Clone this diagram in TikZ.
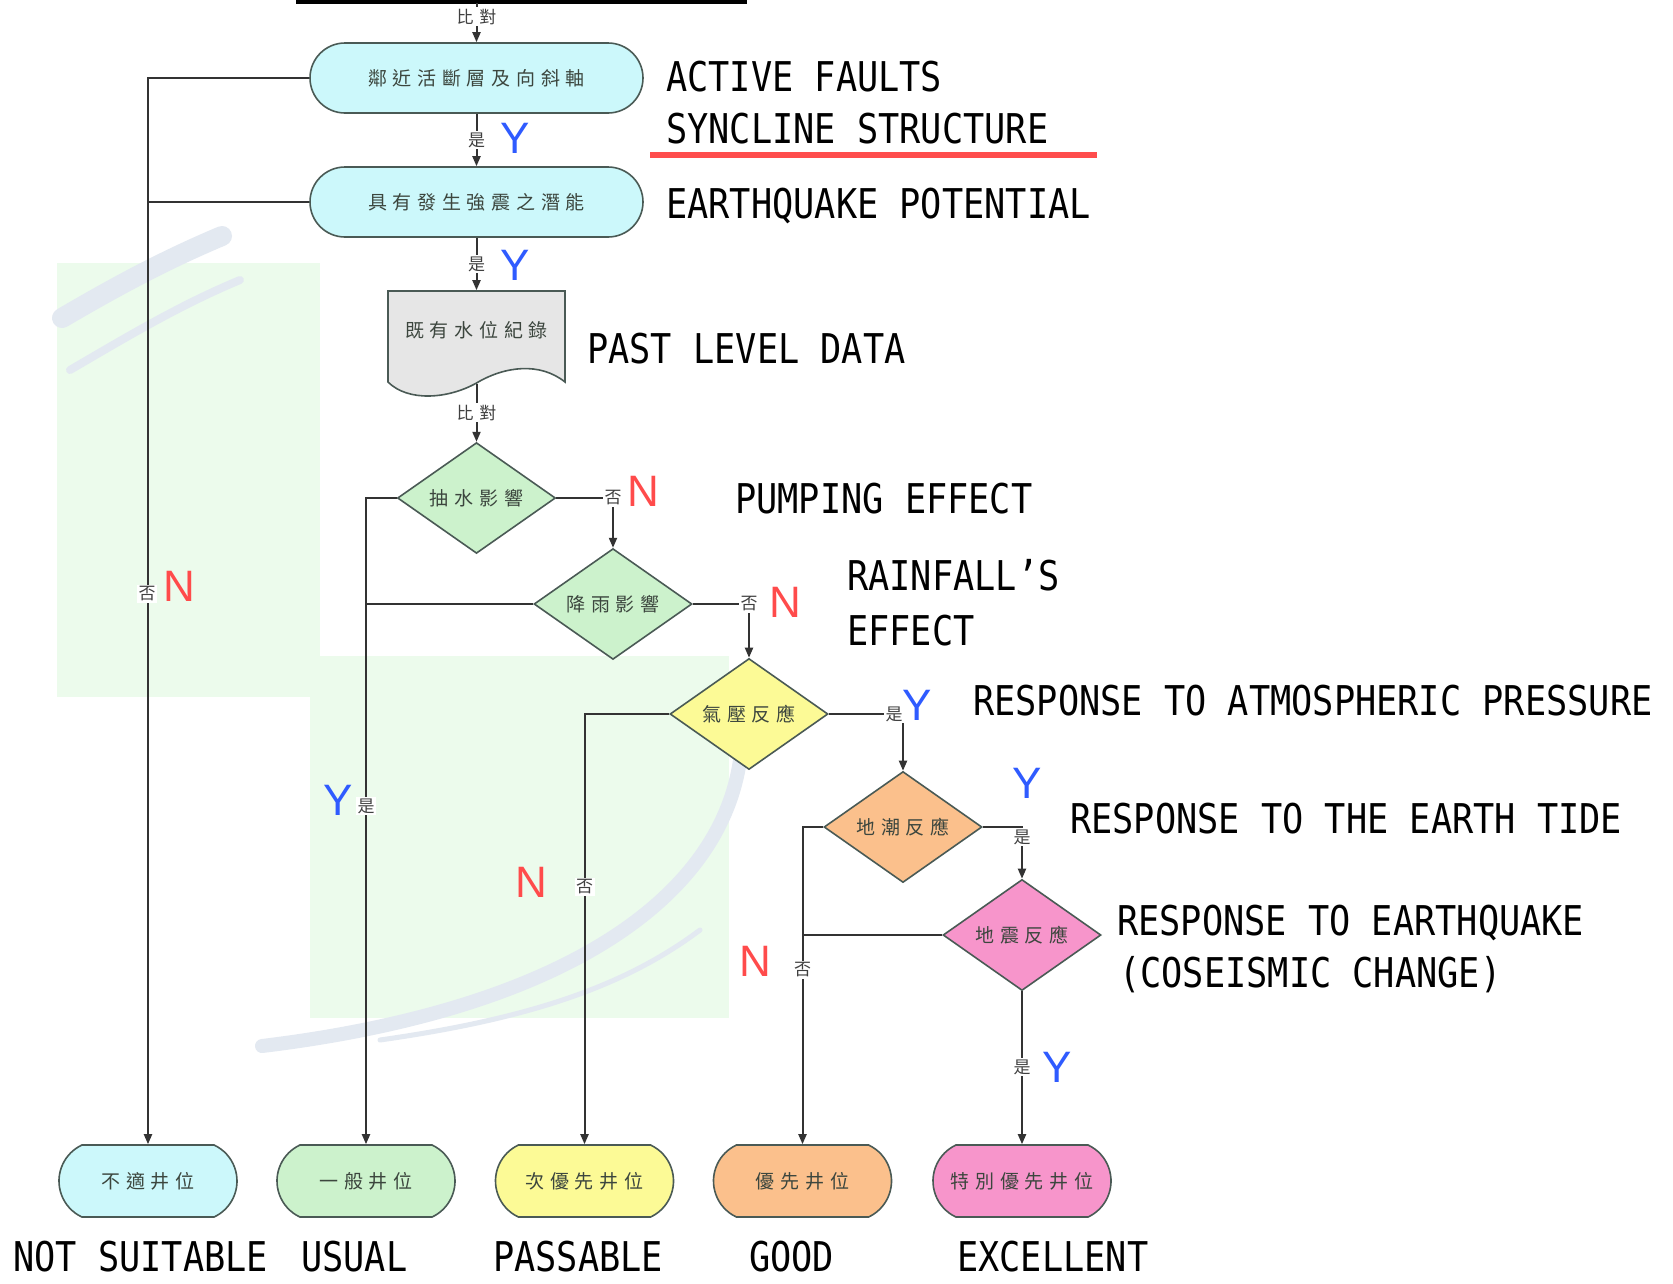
\documentclass[tikz,border=0pt]{standalone}
\usepackage{fontspec}
\usetikzlibrary{shapes.geometric,shapes.misc,arrows.meta,calc}
\newfontfamily\cjkfont[LetterSpace=30]{Noto Sans CJK TC}
\newfontfamily\cjklab[LetterSpace=35]{Noto Sans CJK TC}
\newfontfamily\engfont[FakeStretch=0.86]{DejaVu Sans Mono}
\newfontfamily\ynfont{Liberation Sans}
\definecolor{linec}{HTML}{333333}
\definecolor{borderc}{HTML}{4A5A55}
\definecolor{txtc}{HTML}{3C463E}
\definecolor{labc}{HTML}{404040}
\definecolor{cyanf}{HTML}{CCF8FB}
\definecolor{grayf}{HTML}{E6E6E6}
\definecolor{greenf}{HTML}{CCF2CC}
\definecolor{yellowf}{HTML}{FCFA96}
\definecolor{orangef}{HTML}{FBC08C}
\definecolor{pinkf}{HTML}{F795CB}
\definecolor{ycol}{HTML}{2F5BFF}
\definecolor{ncol}{HTML}{FF4B4B}
\definecolor{redl}{HTML}{FF4D4D}
\definecolor{wmgreen}{HTML}{ECFBEC}
\definecolor{wmblue}{HTML}{E3E9F1}
\tikzset{
 base/.style={draw=borderc, line width=1.6pt, text=txtc, font=\cjkfont\fontsize{19}{19}\selectfont, inner sep=0pt},
 bigbox/.style={base, rounded rectangle, minimum width=333pt, minimum height=70pt, fill=cyanf},
 cond/.style={base, diamond, minimum width=158pt, minimum height=103pt},
 term/.style={base, rounded rectangle, rounded rectangle arc length=130, minimum width=178pt, minimum height=72pt},
 ln/.style={draw=linec, line width=2pt},
 arr/.style={ln, -{Triangle[length=10pt,width=8pt]}},
 lab/.style={fill=white, inner sep=1.5pt, text=labc, font=\cjklab\fontsize{17}{17}\selectfont},
 ylab/.style={text=ycol, font=\ynfont\fontsize{44}{44}\selectfont, inner sep=0pt},
 nlab/.style={ylab, text=ncol},
 eng/.style={anchor=base west, inner sep=0pt, font=\engfont\fontsize{41}{41}\selectfont},
 wm/.style={draw=wmblue, line cap=round},
}
\begin{document}
\begin{tikzpicture}[x=1pt,y=-1pt]
\useasboundingbox (0,0) rectangle (1673,1283);
\fill[white] (0,0) rectangle (1673,1283);
% watermark background
\fill[wmgreen] (57,263) rectangle (320,697);
\fill[wmgreen] (310,656) rectangle (729,1018);
\draw[wm, line width=20pt] (62,318) .. controls (110,290) and (160,262) .. (222,236);
\draw[wm, line width=8pt] (70,370) .. controls (130,335) and (180,305) .. (240,280);
\draw[wm, line width=14pt] (740,760) .. controls (720,900) and (560,1010) .. (262,1046);
\draw[wm, line width=5pt] (700,930) .. controls (620,990) and (520,1020) .. (380,1040);
% title bar
\coordinate (topl) at (296,2);
\coordinate (topr) at (747,2);
\coordinate (topc) at (476.5,3);
\draw[line width=4pt] (topl) -- (topr);
% document shape
\filldraw[draw=borderc, fill=grayf, line width=1.6pt] (388,291) -- (565,291) -- (565,382)
  .. controls (540,362) and (505,366) .. (476.5,383)
  .. controls (448,399) and (408,402) .. (388,382) -- cycle;
% nodes
\node[bigbox] (b1) at (476.5,78) {鄰近活斷層及向斜軸};
\node[bigbox] (b2) at (476.5,202) {具有發生強震之潛能};
\node[base, draw=none, minimum width=178pt, minimum height=78pt] (doc) at (476.5,330) {既有水位紀錄};
\node[cond, fill=greenf, minimum height=96pt] (d1) at (476.5,498) {抽水影響};
\node[cond, fill=greenf] (d2) at (613,604) {降雨影響};
\node[cond, fill=yellowf] (d3) at (749,714) {氣壓反應};
\node[cond, fill=orangef] (d4) at (903,827) {地潮反應};
\node[cond, fill=pinkf] (d5) at (1022,935) {地震反應};
\node[term, fill=cyanf] (t1) at (148,1181) {不適井位};
\node[term, fill=greenf] (t2) at (366,1181) {一般井位};
\node[term, fill=yellowf] (t3) at (584.5,1181) {次優先井位};
\node[term, fill=orangef] (t4) at (802.5,1181) {優先井位};
\node[term, fill=pinkf] (t5) at (1022,1181) {特別優先井位};
% connectors
\draw[arr] (topc) -- node[lab, pos=0.35] (c0) {比對} (b1.north);
\draw[arr] (b1.south) -- node[lab] (c1) {是} (b2.north);
\draw[arr] (b2.south) -- node[lab] (c2) {是} (doc.north);
\draw[arr] ($(doc.south)+(0,14)$) -- node[lab] (c3) {比對} (d1.north);
\draw[arr] (b1.west) -| (t1.north);
\draw[ln] (b2.west) -- (b2.west -| t1.north);
\draw[arr] (d1.west) -| (t2.north);
\draw[ln] (d2.west) -- (d2.west -| t2.north);
\draw[arr] (d1.east) -| node[lab, pos=0.5] (c4) {否} (d2.north);
\draw[arr] (d2.east) -| node[lab, pos=0.5] (c5) {否} (d3.north);
\draw[arr] (d3.west) -| (t3.north);
\draw[arr] (d3.east) -| (d4.north);
\draw[arr] (d4.west) -| (t4.north);
\draw[ln] (d5.west) -- (d5.west -| t4.north);
\draw[arr] (d4.east) -| (d5.north);
\draw[arr] (d5.south) -- (t5.north);
% branch labels
\node[lab] (c6) at (147,594) {否};
\node[lab] (c7) at (366,806) {是};
\node[lab] (c8) at (584.5,887) {否};
\node[lab] (c9) at (802.5,970) {否};
\node[lab] (c10) at (894,714) {是};
\node[lab] (c11) at (1022,837) {是};
\node[lab] (c12) at (1022,1067) {是};
% Y / N
\node[ylab] (y1) at (515,138) {Y};
\node[ylab] (y2) at (515,265) {Y};
\node[ylab] (y3) at (338,800) {Y};
\node[ylab] (y4) at (917,705) {Y};
\node[ylab] (y5) at (1027,783) {Y};
\node[ylab] (y6) at (1057,1067) {Y};
\node[nlab] (n1) at (643,491) {N};
\node[nlab] (n2) at (785,602) {N};
\node[nlab] (n3) at (179,586) {N};
\node[nlab] (n4) at (531,882) {N};
\node[nlab] (n5) at (755,961) {N};
% English annotations
\node[eng] (e1) at (666,91) {ACTIVE FAULTS};
\node[eng] (e2) at (666,143) {SYNCLINE STRUCTURE};
\coordinate (rl) at (650,155);
\coordinate (rr) at (1097,155);
\draw[redl, line width=6pt] (rl) -- (rr);
\node[eng] (e3) at (666,218) {EARTHQUAKE POTENTIAL};
\node[eng] (e4) at (587,363) {PAST LEVEL DATA};
\node[eng] (e5) at (735,513) {PUMPING EFFECT};
\node[eng] (e6) at (847,590) {RAINFALL’S};
\node[eng] (e7) at (847,645) {EFFECT};
\node[eng] (e8) at (973,715) {RESPONSE TO ATMOSPHERIC PRESSURE};
\node[eng] (e9) at (1070,833) {RESPONSE TO THE EARTH TIDE};
\node[eng] (e10) at (1117,935) {RESPONSE TO EARTHQUAKE};
\node[eng] (e11) at (1119,987) {(COSEISMIC CHANGE)};
\node[eng] (e12) at (13,1271) {NOT SUITABLE};
\node[eng] (e13) at (301,1271) {USUAL};
\node[eng] (e14) at (493,1271) {PASSABLE};
\node[eng] (e15) at (749,1271) {GOOD};
\node[eng] (e16) at (957,1271) {EXCELLENT};
\end{tikzpicture}
\end{document}
